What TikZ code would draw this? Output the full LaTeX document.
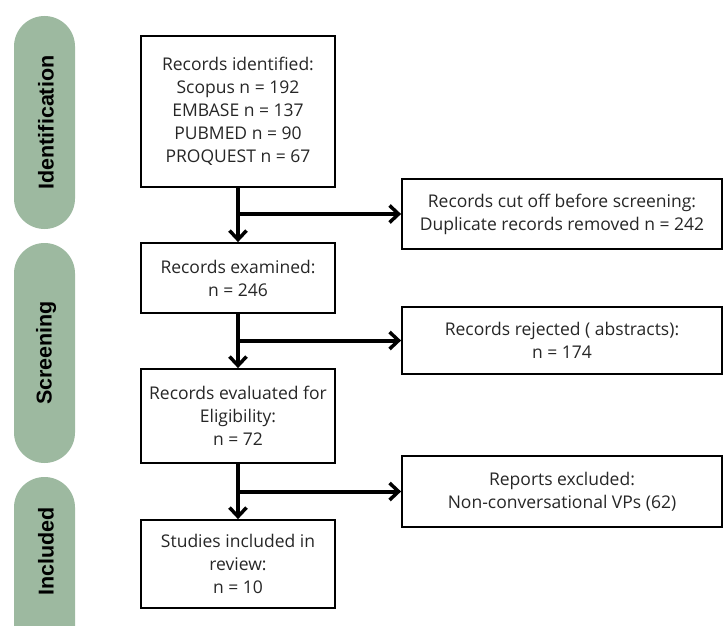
\documentclass[tikz,border=0pt]{standalone}
\usepackage{fontspec}
\setmainfont{Open Sans}
\newfontfamily\phasefont{Liberation Sans}
\usetikzlibrary{arrows.meta}

\definecolor{sage}{RGB}{157,185,160}

\begin{document}
\begin{tikzpicture}[x=1pt,y=-1pt,
  box/.style={draw,line width=1.8pt,minimum width=194pt,align=center,
    font=\fontsize{17.5}{23}\selectfont,text=black!85,inner sep=0pt},
  sidebox/.style={box,minimum width=320pt},
  phase/.style={rotate=90,font=\phasefont\fontsize{21.5}{24}\selectfont\bfseries},
  flow/.style={line width=4pt,-{Straight Barb[length=9pt,width=17pt,line width=3.5pt]}}]

\useasboundingbox (0,0) rectangle (724,626);

%phase labels on the left
\begin{scope}
\clip (0,0) rectangle (724,626);
\fill[sage,rounded corners=30.5pt] (14,16) rectangle (75,229);
\fill[sage,rounded corners=30.5pt] (14,243) rectangle (75,463);
\fill[sage,rounded corners=30.5pt] (14,477) rectangle (75,690);
\end{scope}
\node[phase] (identification) at (46,122.5) {Identification};
\node[phase] (screening) at (46,353) {Screening};
\node[phase] (included) at (46,551.5) {Included};

%main column
\node[box,minimum height=151pt] (ident) at (238,111.5) {Records identified:\\Scopus n = 192\\EMBASE n = 137\\PUBMED n = 90\\PROQUEST n = 67};
\node[box,minimum height=70pt] (exam) at (238,278) {Records examined:\\n = 246};
\node[box,minimum height=94pt] (elig) at (238,416) {Records evaluated for\\Eligibility:\\n = 72};
\node[box,minimum height=88pt] (studies) at (238,564) {Studies included in\\review:\\n = 10};

%excluded column
\node[sidebox,minimum height=70pt] (cutoff) at (562,214) {Records cut off before screening:\\Duplicate records removed n = 242};
\node[sidebox,minimum height=67pt] (reject) at (562,340.5) {Records rejected ( abstracts):\\n = 174};
\node[sidebox,minimum height=71pt] (exclude) at (562,491.5) {Reports excluded:\\Non-conversational VPs (62)};

%arrows
\draw[flow] (ident) -- (exam);
\draw[flow] (exam) -- (elig);
\draw[flow] (elig) -- (studies);
\draw[flow] (ident.south |- cutoff.west) -- (cutoff.west);
\draw[flow] (exam.south |- reject.west) -- (reject.west);
\draw[flow] (elig.south |- exclude.west) -- (exclude.west);

\end{tikzpicture}
\end{document}
